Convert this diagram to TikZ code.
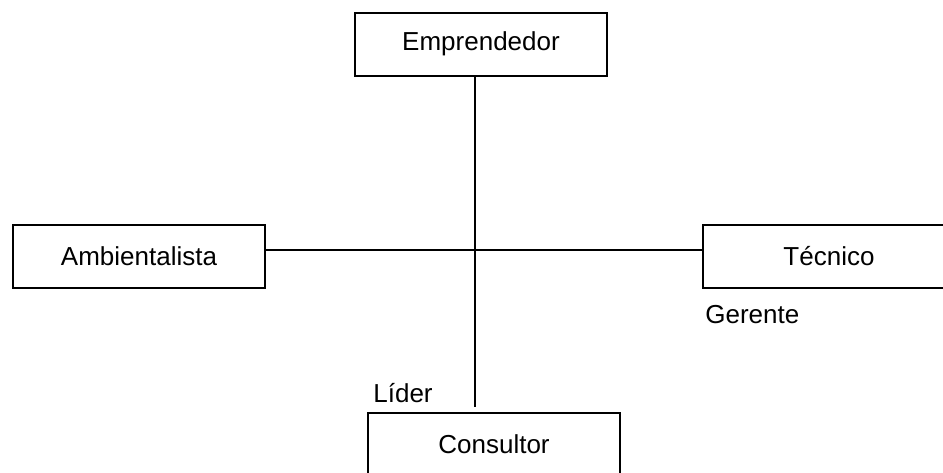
\documentclass[tikz,border=0pt]{standalone}
\usepackage{fontspec}
\setmainfont{Liberation Sans}
\usetikzlibrary{positioning,calc}

\begin{document}
\begin{tikzpicture}[
    x=0.5pt, y=-0.5pt,
    box/.style={draw, line width=1pt, minimum width=126pt, minimum height=31.5pt, align=center, font=\fontsize{13}{15}\selectfont},
    conn/.style={line width=1.4pt},
    lbl/.style={font=\fontsize{13}{15}\selectfont, inner sep=0pt, anchor=west}
]
\clip (0,0) rectangle (943,472);
\node[box] (emp) at (481,44) {Emprendedor};
\node[box] (amb) at (139,256.5) {Ambientalista};
\node[box] (tec) at (829,256.5) {Técnico};
\node[box] (con) at (494,444.5) {Consultor};
\coordinate (hub) at (475,250);
\coordinate (lead) at (475,407);
\node[lbl] (ger) at (705,315) {Gerente};
\node[lbl] (lid) at (373,393) {Líder};

\draw[conn] (emp.south -| hub) -- (lead);
\draw[conn] (amb.east |- hub) -- (tec.west |- hub);
\end{tikzpicture}
\end{document}
